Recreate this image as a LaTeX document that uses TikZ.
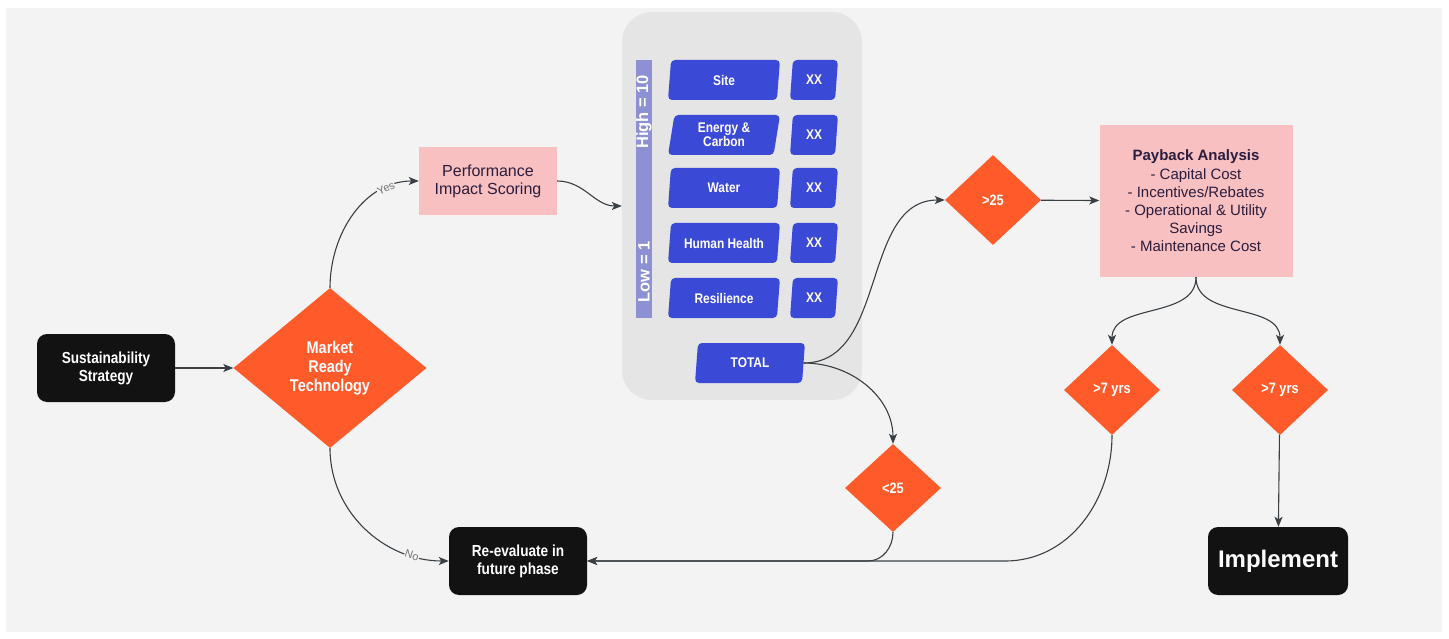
\documentclass[tikz,border=0pt]{standalone}
\usepackage{fontspec}
\setmainfont{Liberation Sans}
\newfontfamily\narrowfont[FakeStretch=0.85]{Liberation Sans}
\usetikzlibrary{shapes.geometric,arrows.meta}
\definecolor{bggray}{HTML}{F3F3F3}
\definecolor{panelgray}{HTML}{E5E5E5}
\definecolor{flame}{HTML}{FF5A2A}
\definecolor{blush}{HTML}{F8C0C0}
\definecolor{royal}{HTML}{3B4AD6}
\definecolor{lilac}{HTML}{8D90D2}
\definecolor{ink}{HTML}{2B1D3F}
\definecolor{wire}{HTML}{3A3F44}

\begin{document}
\begin{tikzpicture}[>={Stealth[length=10pt,width=8pt,inset=2.5pt]},x=1pt,y=-1pt,
  blackbox/.style={rectangle,rounded corners=10pt,fill=black!93,text=white,align=center,
    minimum width=138pt,minimum height=68pt,inner sep=2pt,font=\narrowfont\bfseries\fontsize{16}{18}\selectfont},
  decision/.style={diamond,fill=flame,text=white,align=center,inner sep=0pt,
    font=\narrowfont\bfseries\fontsize{15}{18}\selectfont},
  pinkbox/.style={rectangle,fill=blush,text=ink,align=center,inner sep=2pt},
  crit/.style={trapezium,trapezium left angle=76,trapezium right angle=104,trapezium stretches body,
    rounded corners=4pt,fill=royal,text=white,align=center,minimum width=112pt,minimum height=40pt,
    inner sep=1pt,font=\narrowfont\bfseries\fontsize{14}{14}\selectfont},
  score/.style={crit,minimum width=48pt},
  bartext/.style={text=white,rotate=90,font=\bfseries\fontsize{16.5}{18}\selectfont},
  tag/.style={fill=bggray,text=black!55,inner sep=0.5pt,font=\fontsize{11}{12}\selectfont},
  flow/.style={->,draw=wire,line width=1.1pt}]

\fill[white] (0,0) rectangle (1449,639);
\fill[bggray] (6,8) rectangle (1442,632);

% scoring panel
\node[rectangle,rounded corners=30pt,fill=panelgray,minimum width=240pt,minimum height=388pt] (panel) at (742,206) {};
\node[rectangle,fill=lilac,minimum width=16pt,minimum height=258pt,inner sep=0pt] (scale) at (644,189) {};
\node[bartext] (high) at (644,112) {High = 10};
\node[bartext] (low) at (644,272) {Low = 1};
\foreach \y/\lab [count=\i] in {80/Site,135/{Energy \&\\Carbon},188/Water,243/Human Health,298/Resilience}{
  \node[crit] (crit\i) at (724,\y) {\lab};
  \node[score] (score\i) at (814,\y) {XX};
}
\node[crit,minimum width=110pt] (total) at (750,363) {TOTAL};

\node[blackbox] (strategy) at (106,368) {Sustainability\\Strategy};
\node[decision,minimum width=193pt,minimum height=160pt,font=\narrowfont\bfseries\fontsize{17}{19}\selectfont] (market) at (330,368) {Market\\Ready\\Technology};
\node[pinkbox,minimum width=138pt,minimum height=68pt,font=\fontsize{16}{18}\selectfont] (scoring) at (488,181) {Performance\\Impact Scoring};
\node[decision,minimum width=96pt,minimum height=90pt] (gt) at (993,200) {>25};
\node[decision,minimum width=96pt,minimum height=88pt] (lt) at (893,488) {<25};
\node[pinkbox,minimum width=193pt,minimum height=152pt,font=\fontsize{15}{18.2}\selectfont] (payback) at (1196,201)
  {\textbf{Payback Analysis}\\- Capital Cost\\- Incentives/Rebates\\- Operational \& Utility\\Savings\\- Maintenance Cost};
\node[decision,minimum width=96pt,minimum height=90pt] (yrsA) at (1112,390) {>7 yrs};
\node[decision,minimum width=96pt,minimum height=90pt] (yrsB) at (1280,390) {>7 yrs};
\node[blackbox] (reeval) at (518,561) {Re-evaluate in\\future phase};
\node[blackbox,minimum width=140pt,font=\bfseries\fontsize{24}{28}\selectfont] (implement) at (1278,561) {Implement};

\coordinate (joinA) at (868,561);
\coordinate (joinB) at (1005,561);

\draw[flow] (strategy) -- (market);
\draw[flow] (market.north) to[out=90,in=180] node[tag,pos=0.78,sloped] {Yes} (scoring.west);
\draw[flow] (market.south) to[out=270,in=180] node[tag,pos=0.8,sloped] {No} (reeval.west);
\draw[flow] (scoring.east) to[out=0,in=180] (panel.west);
\draw[flow] (total.east) to[out=0,in=180] (gt.west);
\draw[flow] (total.east) to[out=0,in=90] (lt.north);
\draw[flow] (gt) -- (payback);
\draw[flow] (payback.south) to[out=270,in=90] (yrsA.north);
\draw[flow] (payback.south) to[out=270,in=90] (yrsB.north);
\draw[flow] (yrsB) -- (implement);
\draw[flow] (lt.south) to[out=270,in=0] (joinA) -- (reeval.east);
\draw[flow] (yrsA.south) to[out=270,in=0] (joinB) -- (reeval.east);

\end{tikzpicture}
\end{document}
